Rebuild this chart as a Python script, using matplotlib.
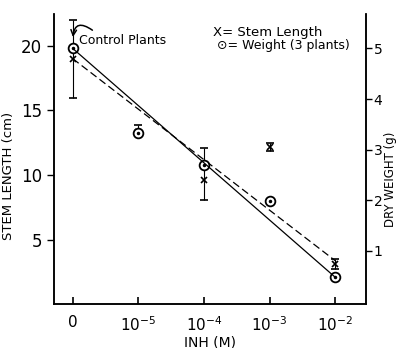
import numpy as np
import matplotlib.pyplot as plt

# INH concentration categories
conc_labels = ["0", r"$10^{-5}$", r"$10^{-4}$", r"$10^{-3}$", r"$10^{-2}$"]

# stem length (cm), x markers
stem = [19.0, 13.3, 9.6, 12.15, 3.15]
stem_err_lo = [3.0, 0.3, 1.5, 0.3, 0.4]
stem_err_hi = [3.0, 0.6, 2.5, 0.3, 0.4]

# dry weight (g) of 3 plants, circles
weight = [5.0, 3.33, 2.7, 1.99, 0.48]

# regression lines (end points)
stem_fit = [19.0, 3.4]
weight_fit = [5.0, 0.48]

plt.rcParams['font.family'] = 'DejaVu Sans'

fig = plt.figure(figsize=(4.01, 3.48), dpi=100)
ax1 = fig.add_axes([0.1347, 0.1264, 0.778, 0.8334])
ax2 = ax1.twinx()

xpos = np.arange(len(conc_labels))

ax1.errorbar(xpos, stem, yerr=[stem_err_lo, stem_err_hi], fmt='x', color='k',
             ms=4, mew=1.2, elinewidth=0.8, capsize=3, capthick=1)
ax1.plot([xpos[0], xpos[-1]], stem_fit, color='k', lw=0.9, ls=(0, (6, 3)))

ax2.plot(xpos, weight, 'o', mfc='white', mec='k', ms=7, mew=1.3)
ax2.plot(xpos, weight, '.', color='k', ms=3)
ax2.plot([xpos[0], xpos[-1]], weight_fit, color='k', lw=0.9)

ax1.set_xlim(-0.285, 4.47)
ax1.set_ylim(0.05, 22.45)
ax2.set_ylim(-0.05, 5.68)

ax1.set_xticks(xpos)
ax1.set_xticklabels(conc_labels, fontsize=11)
ax1.tick_params(axis='x', direction='in', length=5, width=1.2, pad=8)
ax1.set_yticks([5, 10, 15, 20])
ax1.tick_params(axis='y', direction='out', length=5, width=1, labelsize=12)
ax2.set_yticks([1, 2, 3, 4, 5])
ax2.tick_params(axis='y', direction='out', length=4, width=1, labelsize=10, pad=1.5)

for ax in (ax1, ax2):
    ax.spines['top'].set_visible(False)
    for s in ('left', 'bottom', 'right'):
        ax.spines[s].set_linewidth(1.1)

ax1.set_xlabel("INH (M)", fontsize=10, labelpad=1)
ax1.set_ylabel("STEM LENGTH (cm)", fontsize=9.5)
ax1.yaxis.set_label_coords(-0.125, 0.44)
ax2.set_ylabel("DRY WEIGHT (g)", fontsize=8.5, rotation=90)
ax2.yaxis.set_label_coords(1.058, 0.43)

ax1.text(0.1, 20.4, "Control Plants", fontsize=9, va='center', ha='left')
ax1.annotate("", xy=(0.0, 20.45), xytext=(0.3, 21.2),
             arrowprops=dict(arrowstyle='->', color='k', lw=1.1,
                             connectionstyle='arc3,rad=0.9',
                             shrinkA=0, shrinkB=2))

fig.text(0.532, 0.908, "X= Stem Length", fontsize=9.5, va='center')
fig.text(0.54, 0.868, "⊙= Weight (3 plants)", fontsize=9, va='center')

fig.savefig("out.png", dpi=100)
